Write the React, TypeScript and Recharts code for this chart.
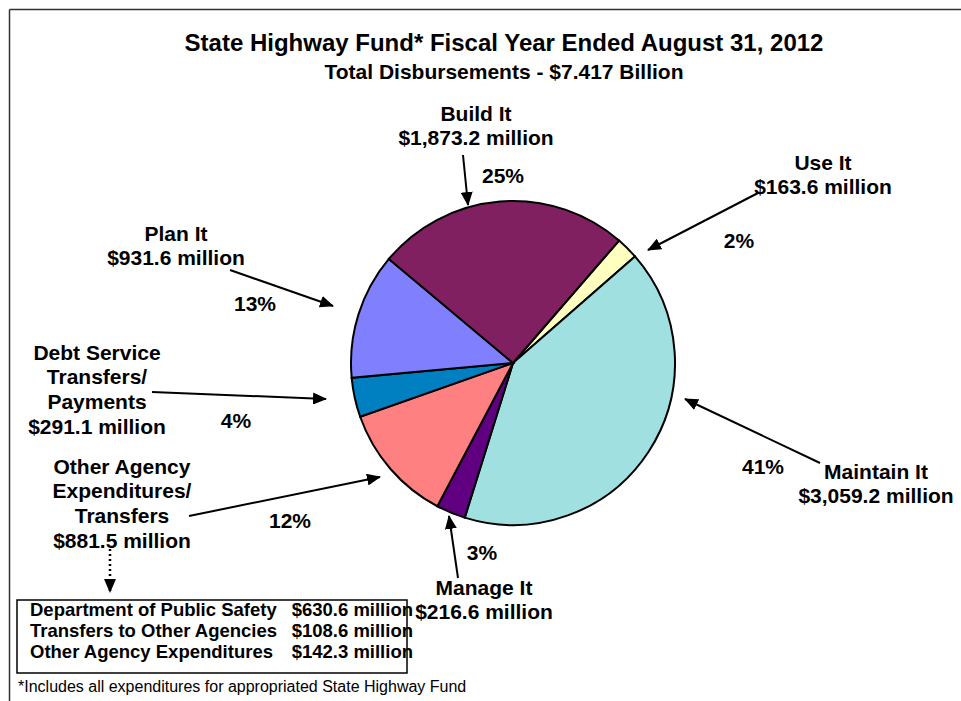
import React from 'react';
import { PieChart, Pie, Cell, Customized } from 'recharts';

// slices in clockwise order, starting with "Use It" at about one o'clock
const categories = ['Use It', 'Maintain It', 'Manage It', 'Other Agency|Expenditures/|Transfers', 'Debt Service|Transfers/|Payments', 'Plan It', 'Build It'];
const amounts = [163.6, 3059.2, 216.6, 881.5, 291.1, 931.6, 1873.2];
const colors = ['#FFFFC0', '#A0E0E0', '#600080', '#FF8080', '#0080C0', '#8080FF', '#802060'];

const breakdownNames = ['Department of Public Safety', 'Transfers to Other Agencies', 'Other Agency Expenditures'];
const breakdownAmounts = [630.6, 108.6, 142.3];

const title = 'State Highway Fund* Fiscal Year Ended August 31, 2012';
const footnote = '*Includes all expenditures for appropriated State Highway Fund';

const total = amounts.reduce((a, b) => a + b, 0);
const data = categories.map((name, i) => ({ name, value: amounts[i] }));

// callout placement: label centre (x, first-line y), percent label, arrow from -> to
const calloutLayout = [
  { x: 823, y: 162, pct: [739, 240], arrow: [758, 193, 648, 250] },
  { x: 876, y: 471, pct: [763, 466], arrow: [820, 463, 685, 399] },
  { x: 484, y: 587, pct: [482, 552], arrow: [458, 578, 449, 516] },
  { x: 122, y: 466, pct: [290, 520], arrow: [189, 516, 380, 477] },
  { x: 97, y: 352, pct: [236, 420], arrow: [152, 392, 326, 399] },
  { x: 176, y: 233, pct: [255, 303], arrow: [230, 270, 333, 306] },
  { x: 476, y: 113, pct: [503, 175], arrow: [463, 155, 468, 205] },
];

const FONT = '"Liberation Sans", Arial, sans-serif';
const fmt = (v: number) => v.toLocaleString('en-US', { minimumFractionDigits: 1, maximumFractionDigits: 1 });

function Annotations() {
  return (
    <g fontFamily={FONT} fill="#000">
      <defs>
        <marker id="arrowHead" markerUnits="userSpaceOnUse" markerWidth="14" markerHeight="12" refX="13" refY="6" orient="auto">
          <path d="M0,0 L14,6 L0,12 z" fill="#000" />
        </marker>
      </defs>
      {/* frame */}
      <line x1={9.5} y1={9.5} x2={961} y2={9.5} stroke="#333" strokeWidth={1.5} />
      <line x1={9.5} y1={9.5} x2={9.5} y2={701} stroke="#333" strokeWidth={1.5} />

      <text x={504} y={51} textAnchor="middle" fontSize={24} fontWeight="bold">{title}</text>
      <text x={504} y={79} textAnchor="middle" fontSize={21} fontWeight="bold">
        {`Total Disbursements - $${(total / 1000).toFixed(3)} Billion`}
      </text>

      {data.map((d, i) => {
        const l = calloutLayout[i];
        const lines = [...d.name.split('|'), `$${fmt(d.value)} million`];
        const [x1, y1, x2, y2] = l.arrow;
        return (
          <g key={d.name}>
            {lines.map((t, j) => (
              <text key={j} x={l.x} y={l.y + 7.5 + j * 24.7} textAnchor="middle" fontSize={21} fontWeight="bold">{t}</text>
            ))}
            <text x={l.pct[0]} y={l.pct[1] + 7.5} textAnchor="middle" fontSize={21} fontWeight="bold">
              {`${Math.round((d.value / total) * 100)}%`}
            </text>
            <line x1={x1} y1={y1} x2={x2} y2={y2} stroke="#000" strokeWidth={2} markerEnd="url(#arrowHead)" />
          </g>
        );
      })}

      {/* dotted pointer to breakdown box */}
      <line x1={110} y1={549} x2={110} y2={592} stroke="#000" strokeWidth={2.5} strokeDasharray="2 3" markerEnd="url(#arrowHead)" />

      {breakdownNames.map((n, i) => (
        <g key={n}>
          <text x={30} y={616 + i * 21} fontSize={18.5} fontWeight="bold">{n}</text>
          <text x={413} y={616 + i * 21} textAnchor="end" fontSize={18.5} fontWeight="bold">{`$${fmt(breakdownAmounts[i])} million`}</text>
        </g>
      ))}
      <rect x={17} y={600} width={390} height={73} fill="none" stroke="#000" strokeWidth={1.5} />

      <text x={18} y={692} fontSize={16}>{footnote}</text>
    </g>
  );
}

export default function App() {
  return (
    <div style={{ position: 'absolute', left: 0, top: 0, background: '#fff' }}>
      <PieChart width={961} height={701} margin={{ top: 0, right: 0, bottom: 0, left: 0 }}>
        <Pie
          data={data}
          dataKey="value"
          nameKey="name"
          cx={513}
          cy={363}
          outerRadius={162}
          startAngle={49.1}
          endAngle={-310.9}
          stroke="#000"
          strokeWidth={2}
          isAnimationActive={false}
          label={false}
          labelLine={false}
        >
          {data.map((d, i) => (
            <Cell key={d.name} fill={colors[i]} />
          ))}
        </Pie>
        <Customized component={Annotations} />
      </PieChart>
    </div>
  );
}
